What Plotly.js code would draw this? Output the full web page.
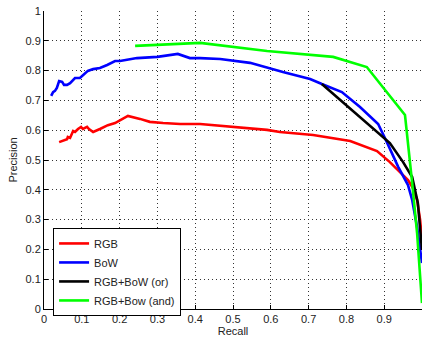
<!DOCTYPE html>
<html>
<head>
<meta charset="utf-8">
<script src="https://cdn.plot.ly/plotly-3.0.1.min.js"></script>
<style>html,body{margin:0;padding:0;background:#fff;}#chart{width:422px;height:338px;}</style>
</head>
<body>
<div id="chart"></div>
<script>
const rgbRecall = [0.040,0.050,0.061,0.063,0.069,0.077,0.082,0.090,0.098,0.103,0.114,0.119,0.130,0.148,0.169,0.188,0.222,0.254,0.280,0.315,0.360,0.413,0.590,0.624,0.712,0.810,0.881,0.915,0.950,0.963,0.976,0.987,0.995,1.0];
const rgbPrecision = [0.560,0.564,0.570,0.577,0.574,0.597,0.594,0.604,0.611,0.604,0.611,0.604,0.594,0.604,0.617,0.624,0.648,0.638,0.628,0.624,0.621,0.621,0.601,0.594,0.584,0.564,0.530,0.493,0.450,0.433,0.406,0.366,0.299,0.232];

const bowRecall = [0.019,0.024,0.029,0.034,0.040,0.048,0.053,0.061,0.069,0.082,0.095,0.103,0.116,0.130,0.148,0.167,0.188,0.201,0.222,0.246,0.300,0.354,0.386,0.413,0.466,0.545,0.632,0.704,0.735,0.788,0.836,0.884,0.907,0.937,0.963,0.974,0.987,0.995,1.0];
const bowPrecision = [0.715,0.728,0.732,0.742,0.765,0.762,0.752,0.752,0.758,0.775,0.775,0.785,0.799,0.805,0.809,0.819,0.832,0.832,0.836,0.842,0.846,0.856,0.842,0.842,0.839,0.826,0.795,0.772,0.755,0.728,0.678,0.621,0.560,0.477,0.416,0.366,0.275,0.208,0.154];

const orRecall = [0.735,0.902,0.915,0.950,0.974,0.989,0.995,1.0];
const orPrecision = [0.755,0.570,0.557,0.493,0.443,0.356,0.282,0.198];

const andRecall = [0.241,0.399,0.413,0.590,0.765,0.854,0.923,0.955,0.974,0.987,1.0];
const andPrecision = [0.883,0.893,0.893,0.866,0.846,0.812,0.701,0.651,0.423,0.255,0.02];

const seriesNames = ['RGB','BoW','RGB+BoW (or)','RGB+Bow (and)'];
const seriesColors = ['#ff0000','#0000ff','#000000','#00ff00'];
const xTicks = [0,0.1,0.2,0.3,0.4,0.5,0.6,0.7,0.8,0.9,1];
const yTicks = [0,0.1,0.2,0.3,0.4,0.5,0.6,0.7,0.8,0.9,1];

const xs = [rgbRecall,bowRecall,orRecall,andRecall];
const ys = [rgbPrecision,bowPrecision,orPrecision,andPrecision];
const traces = xs.map((x,i)=>({x:x,y:ys[i],name:seriesNames[i],type:'scatter',mode:'lines',line:{color:seriesColors[i],width:2.6}}));

const axisCommon = {range:[0,1],showline:true,linecolor:'#000',linewidth:1,ticks:'inside',ticklen:4,tickcolor:'#000',
  showgrid:true,gridcolor:'#333',griddash:'1px,3px',gridwidth:1,zeroline:false,tickfont:{family:'Liberation Sans, Arial, sans-serif',size:11,color:'#222'},mirror:false};

const layout = {
  width:422,height:338,margin:{l:44,r:0,t:11,b:29},paper_bgcolor:'#fff',plot_bgcolor:'#fff',
  font:{family:'Liberation Sans, Arial, sans-serif',size:11,color:'#222'},
  xaxis:Object.assign({},axisCommon,{tickvals:xTicks,ticktext:xTicks.map(String),title:{text:'Recall',standoff:2,font:{size:11}}}),
  yaxis:Object.assign({},axisCommon,{tickvals:yTicks,ticktext:yTicks.map(String),title:{text:'Precision',standoff:5,font:{size:11}}}),
  showlegend:true,
  legend:{x:0.024,y:0.272,xanchor:'left',yanchor:'top',bordercolor:'#000',borderwidth:1,bgcolor:'#fff',itemwidth:30,font:{size:11,color:'#222'},tracegroupgap:0}
};
Plotly.newPlot('chart',traces,layout,{displayModeBar:false,staticPlot:true});
</script>
</body>
</html>
